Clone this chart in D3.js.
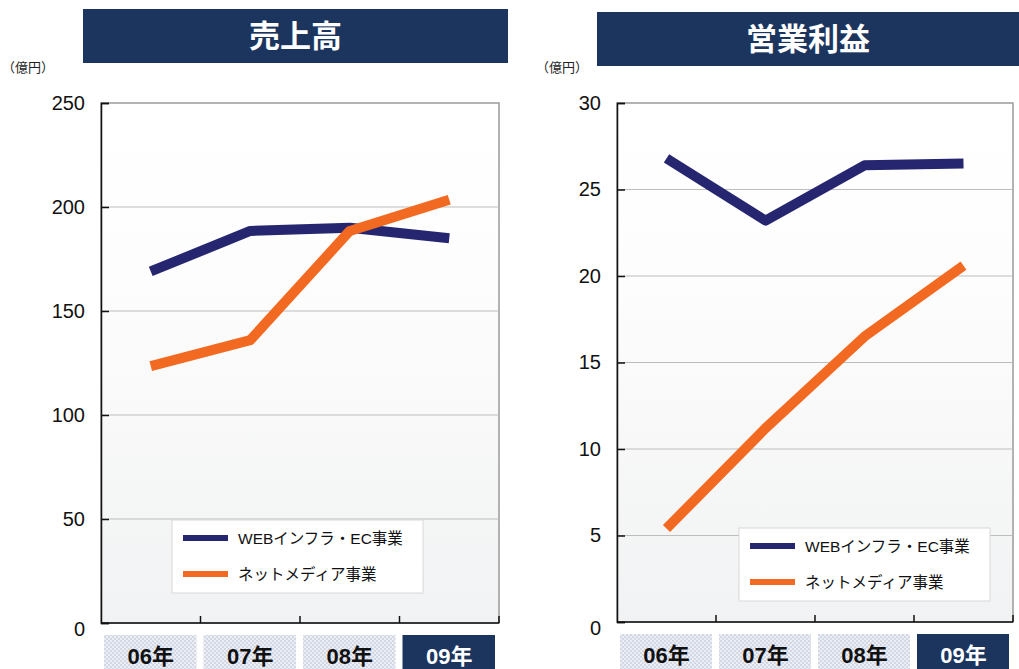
<!DOCTYPE html>
<html>
<head>
<meta charset="utf-8">
<script src="https://cdn.jsdelivr.net/npm/d3@7"></script>
<style>
  body{margin:0;background:#fff;}
  text{font-family:"Liberation Sans","Noto Sans CJK JP",sans-serif;}
</style>
</head>
<body>
<script>
var W=1019, H=669;

var years=["06年","07年","08年","09年"];
var seriesNames=["WEBインフラ・EC事業","ネットメディア事業"];
var salesWeb=[169,188.5,190,185];
var salesNet=[123.5,136,188.5,203.5];
var profitWeb=[26.8,23.2,26.4,26.5];
var profitNet=[5.4,11.2,16.5,20.6];
var salesTicks=[0,50,100,150,200,250];
var profitTicks=[0,5,10,15,20,25,30];

var colors=["#262670","#f26a21"];
var navy="#1c355e";

var svg=d3.select("body").append("svg")
  .attr("width",W).attr("height",H);

var defs=svg.append("defs");
var grad=defs.append("linearGradient").attr("id","bg")
  .attr("x1",0).attr("y1",0).attr("x2",0).attr("y2",1);
grad.append("stop").attr("offset","0%").attr("stop-color","#ffffff");
grad.append("stop").attr("offset","35%").attr("stop-color","#fdfdfd");
grad.append("stop").attr("offset","100%").attr("stop-color","#f1f2f3");

var pat=defs.append("pattern").attr("id","chk")
  .attr("width",4).attr("height",4).attr("patternUnits","userSpaceOnUse");
pat.append("rect").attr("width",4).attr("height",4).attr("fill","#eceef4");
pat.append("rect").attr("width",2).attr("height",2).attr("fill","#d3d8e6");
pat.append("rect").attr("x",2).attr("y",2).attr("width",2).attr("height",2).attr("fill","#d3d8e6");

function drawChart(cfg){
  var g=svg.append("g");

  // title bar
  g.append("rect").attr("x",cfg.title[0]).attr("y",cfg.title[1])
    .attr("width",cfg.title[2]).attr("height",cfg.title[3]).attr("fill",navy);
  g.append("text").attr("x",cfg.title[0]+cfg.title[2]/2).attr("y",cfg.title[1]+cfg.title[3]/2+11)
    .attr("text-anchor","middle").attr("fill","#fff")
    .attr("font-size",31).attr("font-weight","bold").text(cfg.label);

  g.append("text").attr("x",cfg.unitX).attr("y",72)
    .attr("font-size",13).attr("fill","#222").text("（億円）");

  var x=d3.scaleBand().domain(years).range([cfg.x0,cfg.x1]);
  var y=d3.scaleLinear().domain([0,d3.max(cfg.ticks)]).range([cfg.y1,cfg.y0]);

  g.append("rect").attr("x",cfg.x0).attr("y",cfg.y0)
    .attr("width",cfg.x1-cfg.x0).attr("height",cfg.y1-cfg.y0)
    .attr("fill","url(#bg)").attr("stroke","#9a9a9a").attr("stroke-width",1.5);

  // grid
  g.selectAll(".grid").data(cfg.ticks.slice(1,-1)).enter().append("line")
    .attr("x1",cfg.x0).attr("x2",cfg.x1)
    .attr("y1",function(d){return y(d);}).attr("y2",function(d){return y(d);})
    .attr("stroke","#bdbdbd").attr("stroke-width",1);

  // y axis
  var ya=g.append("g").attr("transform","translate("+cfg.x0+",0)")
    .call(d3.axisLeft(y).tickValues(cfg.ticks).tickSize(-8).tickPadding(16));
  ya.select(".domain").attr("stroke","#111").attr("stroke-width",1.5);
  ya.selectAll(".tick line").attr("stroke","#111").attr("stroke-width",1.5);
  ya.selectAll(".tick text").attr("font-size",20).attr("fill","#111")
    .attr("font-family","'Liberation Sans',sans-serif")
    .attr("dy",function(d){return d===0?"0.6em":"0.32em";});

  // x axis line + ticks at band edges
  g.append("line").attr("x1",cfg.x0).attr("x2",cfg.x1)
    .attr("y1",cfg.y1).attr("y2",cfg.y1).attr("stroke","#111").attr("stroke-width",1.5);
  g.selectAll(".xt").data(years.slice(1).concat(["end"])).enter().append("line")
    .attr("x1",function(d){return d==="end"?cfg.x1:x(d);})
    .attr("x2",function(d){return d==="end"?cfg.x1:x(d);})
    .attr("y1",cfg.y1).attr("y2",cfg.y1-7)
    .attr("stroke","#111").attr("stroke-width",1.5);

  // category boxes
  var cats=g.selectAll(".cat").data(years).enter().append("g");
  cats.append("rect")
    .attr("x",function(d){return x(d)+3;})
    .attr("y",cfg.y1+12).attr("width",x.bandwidth()-7).attr("height",40)
    .attr("fill",function(d,i){return i===years.length-1?navy:"url(#chk)";});
  cats.append("text")
    .attr("x",function(d){return x(d)+x.bandwidth()/2;})
    .attr("y",cfg.y1+41)
    .attr("text-anchor","middle").attr("font-size",22).attr("font-weight","bold")
    .attr("fill",function(d,i){return i===years.length-1?"#fff":"#111";})
    .text(function(d){return d;});

  // lines
  var line=d3.line()
    .x(function(d,i){return x(years[i])+x.bandwidth()/2;})
    .y(function(d){return y(d);});
  cfg.series.forEach(function(s,i){
    g.append("path").datum(s).attr("d",line)
      .attr("fill","none").attr("stroke",colors[i]).attr("stroke-width",10)
      .attr("stroke-linejoin","round");
  });

  // legend
  var lg=g.append("g").attr("transform","translate("+cfg.leg[0]+","+cfg.leg[1]+")");
  lg.append("rect").attr("width",251).attr("height",73)
    .attr("fill","#fff").attr("stroke","#d8d8d8").attr("stroke-width",1);
  seriesNames.forEach(function(n,i){
    lg.append("rect").attr("x",11).attr("y",15+i*36).attr("width",45).attr("height",6)
      .attr("fill",colors[i]);
    lg.append("text").attr("x",66).attr("y",24+i*36)
      .attr("font-size",15.5).attr("fill","#111").text(n);
  });
}

drawChart({label:"売上高",title:[83,9,425,54],unitX:2,
  x0:101,x1:499,y0:103,y1:623,ticks:salesTicks,
  series:[salesWeb,salesNet],leg:[172,520]});

drawChart({label:"営業利益",title:[597,12,422,54],unitX:536,
  x0:617,x1:1013,y0:103,y1:622,ticks:profitTicks,
  series:[profitWeb,profitNet],leg:[739,528]});
</script>
</body>
</html>
